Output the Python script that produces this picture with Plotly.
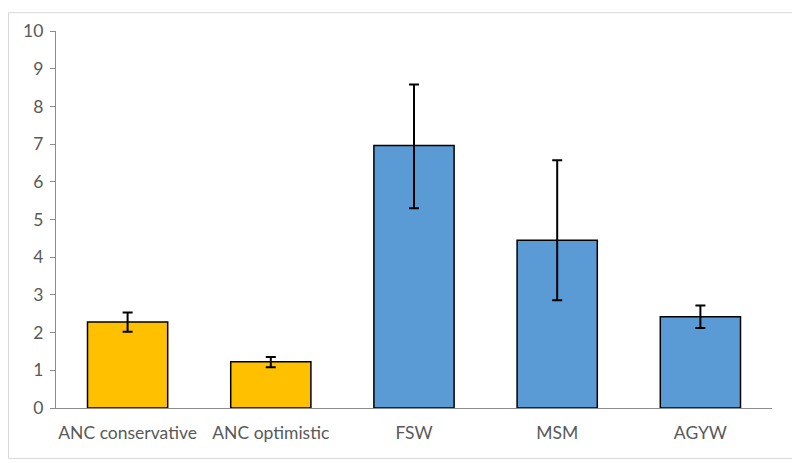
import plotly.graph_objects as go

categories = ["ANC conservative", "ANC optimistic", "FSW", "MSM", "AGYW"]
values = [2.28, 1.23, 6.96, 4.45, 2.42]
err_upper = [2.53, 1.35, 8.58, 6.57, 2.72]
err_lower = [2.02, 1.08, 5.30, 2.86, 2.12]
bar_colors = ["#FFC000", "#FFC000", "#5B9BD5", "#5B9BD5", "#5B9BD5"]
y_ticks = list(range(0, 11))

plus = [u - v for u, v in zip(err_upper, values)]
minus = [v - l for v, l in zip(values, err_lower)]

fig = go.Figure(go.Bar(
    x=categories, y=values,
    marker=dict(color=bar_colors, line=dict(color="#000000", width=1.5)),
    width=0.56,
    error_y=dict(type="data", symmetric=False, array=plus, arrayminus=minus,
                 color="#000000", thickness=2, width=5),
))

# page body has an 8px default margin, so the figure is sized to fit
OFF = 8
W, H = 800 - OFF, 463 - OFF
l, r, t, b = 56 - OFF, 28, 27 - OFF, 55
pw, ph = W - l - r, H - t - b

def px_x(p):
    return (p - OFF - l) / pw

def px_y(p):
    return (H - b - (p - OFF)) / ph

fig.update_layout(
    width=W, height=H,
    margin=dict(l=l, r=r, t=t, b=b),
    plot_bgcolor="white", paper_bgcolor="white",
    showlegend=False,
    font=dict(family="Lato, Open Sans, sans-serif", size=17.5, color="#595959"),
    xaxis=dict(showline=True, linecolor="#8C8C8C", linewidth=1.3,
               ticks="", ticklabelstandoff=9, showgrid=False,
               tickfont=dict(size=17.5, color="#595959")),
    yaxis=dict(range=[0, 10], tickvals=y_ticks, showline=True,
               linecolor="#8C8C8C", linewidth=1.3, ticks="outside",
               ticklen=5, tickcolor="#8C8C8C", showgrid=False, zeroline=False,
               ticklabelstandoff=3, tickfont=dict(size=17.5, color="#595959")),
    shapes=[dict(type="rect", xref="paper", yref="paper",
                 x0=px_x(8.5), x1=px_x(796), y0=px_y(459), y1=px_y(8.5),
                 line=dict(color="#D9D9D9", width=1), layer="below")],
)

fig.write_html("out.html")
